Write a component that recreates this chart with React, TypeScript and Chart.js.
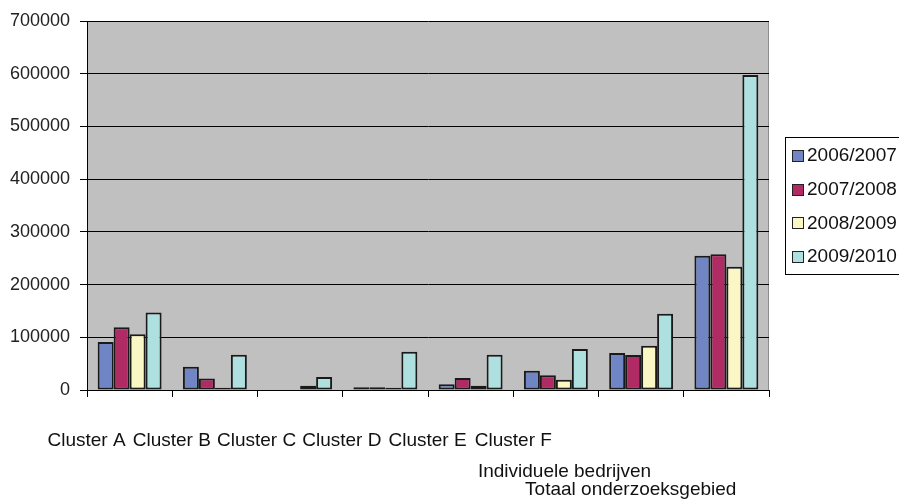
import { useEffect, useRef } from "react";
import { Chart, registerables } from "chart.js";

Chart.register(...registerables);

// Categories along the x axis
const categories = [
  "Cluster A",
  "Cluster B",
  "Cluster C",
  "Cluster D",
  "Cluster E",
  "Cluster F",
  "Individuele bedrijven",
  "Totaal onderzoeksgebied",
];

// Seasons shown in the legend
const seasons = ["2006/2007", "2007/2008", "2008/2009", "2009/2010"];

// Values per season, one entry per category
const values0607 = [91000, 44000, 0, 5000, 11000, 36700, 70200, 254800];
const values0708 = [119000, 22000, 0, 5000, 22700, 27800, 66400, 257500];
const values0809 = [105600, 4500, 8000, 4500, 8000, 19600, 84000, 234000];
const values0910 = [147000, 67000, 24700, 72700, 67000, 77800, 144800, 597700];

// Value axis
const yMin = 0;
const yMax = 700000;
const yStep = 100000;

const seriesColors = ["#7085c4", "#b02a63", "#faf7c5", "#aee0e0"];
const FONT = "'Liberation Sans', Arial, Helvetica, sans-serif";

// Category label rows: [dx from category centre (right-aligned), y]
const labelRows: [number, number][] = [
  [-4, 441],
  [-4, 441],
  [-4, 441],
  [-4, 441],
  [-4, 441],
  [-4, 441],
  [10, 472],
  [10, 490],
];

const frame = {
  id: "frame",
  beforeDraw(chart: any) {
    const { ctx, chartArea: a } = chart;
    ctx.save();
    ctx.fillStyle = "#c0c0c0";
    ctx.fillRect(a.left, a.top, a.right - a.left, a.bottom - a.top);
    ctx.strokeStyle = "#8c8c8c";
    ctx.lineWidth = 1;
    ctx.beginPath();
    ctx.moveTo(Math.round(a.right) - 0.5, a.top);
    ctx.lineTo(Math.round(a.right) - 0.5, a.bottom);
    ctx.stroke();
    ctx.restore();
  },
  afterDraw(chart: any) {
    const { ctx } = chart;
    const xs = chart.scales.x;
    ctx.save();
    // category labels
    ctx.font = `19px ${FONT}`;
    ctx.fillStyle = "#111";
    ctx.textAlign = "right";
    ctx.textBaseline = "middle";
    categories.forEach((c, i) => {
      const [dx, y] = labelRows[i];
      ctx.fillText(c, xs.getPixelForValue(i) + dx, y);
    });
    // legend
    const lx = 785;
    const ly = 137;
    ctx.fillStyle = "#fff";
    ctx.fillRect(lx, ly, 140, 137);
    ctx.strokeStyle = "#000";
    ctx.lineWidth = 1;
    ctx.strokeRect(lx + 0.5, ly + 0.5, 140, 137);
    ctx.textAlign = "left";
    chart.data.datasets.forEach((ds: any, i: number) => {
      const cy = 155 + i * 33.7;
      ctx.fillStyle = ds.backgroundColor;
      ctx.fillRect(792, Math.round(cy - 5), 11, 11);
      ctx.strokeStyle = "#222";
      ctx.strokeRect(792.5, Math.round(cy - 5) + 0.5, 11, 11);
      ctx.fillStyle = "#111";
      ctx.fillText(ds.label, 807, cy + 1);
    });
    ctx.restore();
  },
};

export default function App() {
  const ref = useRef<HTMLCanvasElement>(null);

  useEffect(() => {
    if (!ref.current) return;
    const series = [values0607, values0708, values0809, values0910];
    const chart = new Chart(ref.current, {
      type: "bar",
      data: {
        labels: categories,
        datasets: series.map((v, i) => ({
          label: seasons[i],
          data: v,
          backgroundColor: seriesColors[i],
          borderColor: "#1a1a1a",
          borderWidth: 2,
          borderSkipped: false,
          barPercentage: 1,
          categoryPercentage: 0.75,
        })),
      },
      options: {
        responsive: false,
        animation: false,
        devicePixelRatio: 1,
        layout: { padding: { top: 21, right: 130, left: 0, bottom: 0 } },
        plugins: { legend: { display: false }, tooltip: { enabled: false } },
        scales: {
          x: {
            type: "category",
            offset: true,
            grid: {
              offset: true,
              drawOnChartArea: false,
              drawTicks: true,
              tickLength: 7,
              color: "#000",
            },
            border: { display: true, color: "#000" },
            ticks: { callback: () => "" },
            afterFit(scale: any) {
              scale.height = 110;
            },
          },
          y: {
            min: yMin,
            max: yMax,
            ticks: {
              stepSize: yStep,
              padding: 10,
              color: "#222",
              font: { family: FONT, size: 18 },
              callback: (v: any) => String(v),
            },
            grid: {
              color: "#000",
              lineWidth: 1,
              drawTicks: true,
              tickLength: 7,
            },
            border: { display: true, color: "#000" },
            afterFit(scale: any) {
              scale.width = 87;
            },
          },
        },
      },
      plugins: [frame],
    });
    return () => chart.destroy();
  }, []);

  return (
    <div style={{ position: "absolute", left: 0, top: 0, width: 899, height: 500, background: "#fff" }}>
      <canvas ref={ref} width={899} height={500} style={{ display: "block" }} />
    </div>
  );
}
